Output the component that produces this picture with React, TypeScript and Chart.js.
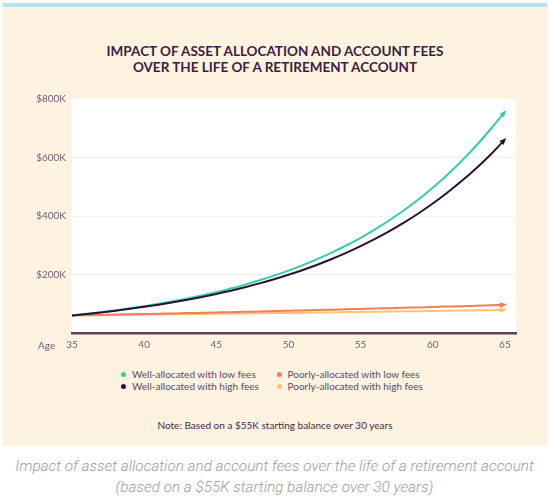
import { useEffect, useRef } from "react";
import { Chart, registerables } from "chart.js";

Chart.register(...registerables);

// ---- data (values in thousands of dollars) ----
const ages = [
  35, 36, 37, 38, 39, 40, 41, 42, 43, 44, 45, 46, 47, 48, 49, 50,
  51, 52, 53, 54, 55, 56, 57, 58, 59, 60, 61, 62, 63, 64, 65,
];
const wellLowFees = [
  60, 65.3, 71.1, 77.3, 84.2, 91.6, 99.7, 108.5, 118, 128.4, 139.7, 152.1, 165.5, 180.1, 196, 213.3,
  232.1, 252.6, 274.9, 299.1, 325.5, 354.2, 385.5, 419.5, 456.5, 496.7, 540.5, 588.2, 640.1, 696.6, 756,
];
const wellHighFees = [
  60, 65, 70.4, 76.3, 82.6, 89.5, 96.9, 105, 113.7, 123.2, 133.4, 144.5, 156.6, 169.6, 183.7, 199,
  215.6, 233.5, 252.9, 274, 296.8, 321.5, 348.2, 377.2, 408.6, 442.6, 479.4, 519.3, 562.5, 609.4, 662,
];
const poorLowFees = [
  60, 60.9, 61.9, 62.9, 63.9, 64.9, 65.9, 67, 68, 69.1, 70.2, 71.3, 72.5, 73.6, 74.8, 76,
  77.2, 78.4, 79.7, 80.9, 82.2, 83.5, 84.9, 86.2, 87.6, 89, 90.4, 91.8, 93.3, 94.8, 96.3,
];
const poorHighFees = [
  60, 60.6, 61.1, 61.7, 62.2, 62.8, 63.4, 64, 64.5, 65.1, 65.7, 66.3, 66.9, 67.6, 68.2, 68.8,
  69.4, 70.1, 70.7, 71.4, 72, 72.7, 73.4, 74, 74.7, 75.4, 76.1, 76.8, 77.5, 78.2, 78.9,
];
const seriesNames = [
  "Well-allocated with low fees",
  "Well-allocated with high fees",
  "Poorly-allocated with low fees",
  "Poorly-allocated with high fees",
];
const seriesColors = ["#35cf9c", "#2b1135", "#f77b5c", "#fdc56c"];
const xTickLabels = [35, 40, 45, 50, 55, 60, 65];
const yTickLabels = [200, 400, 600, 800];

const FONT = "Lato, 'Open Sans', sans-serif";
const TICK_COLOR = "#6f5c74";

const plotBg = {
  id: "plotBg",
  beforeDraw(chart: any) {
    const { ctx, chartArea } = chart;
    ctx.save();
    ctx.fillStyle = "#ffffff";
    ctx.fillRect(chartArea.left, chartArea.top, chartArea.right - chartArea.left, chartArea.bottom - chartArea.top);
    ctx.restore();
  },
};

const arrowHeads = {
  id: "arrowHeads",
  afterDatasetsDraw(chart: any) {
    const { ctx } = chart;
    chart.data.datasets.forEach((ds: any, i: number) => {
      const meta = chart.getDatasetMeta(i);
      const pts = meta.data;
      if (pts.length < 2) return;
      const a = pts[pts.length - 2];
      const b = pts[pts.length - 1];
      const ang = Math.atan2(b.y - a.y, b.x - a.x);
      const len = 7;
      const half = 2.8;
      const tipX = b.x + Math.cos(ang) * 2;
      const tipY = b.y + Math.sin(ang) * 2;
      const baseX = tipX - Math.cos(ang) * len;
      const baseY = tipY - Math.sin(ang) * len;
      ctx.save();
      ctx.fillStyle = ds.borderColor;
      ctx.beginPath();
      ctx.moveTo(tipX, tipY);
      ctx.lineTo(baseX + Math.cos(ang + Math.PI / 2) * half, baseY + Math.sin(ang + Math.PI / 2) * half);
      ctx.lineTo(baseX + Math.cos(ang - Math.PI / 2) * half, baseY + Math.sin(ang - Math.PI / 2) * half);
      ctx.closePath();
      ctx.fill();
      ctx.restore();
    });
  },
};

export default function App() {
  const ref = useRef<HTMLCanvasElement | null>(null);

  useEffect(() => {
    document.body.style.margin = "0";
    if (!ref.current) return;
    const series = [wellHighFees, wellLowFees, poorLowFees, poorHighFees];
    const names = [seriesNames[1], seriesNames[0], seriesNames[2], seriesNames[3]];
    const colors = [seriesColors[1], seriesColors[0], seriesColors[2], seriesColors[3]];
    const chart = new Chart(ref.current, {
      type: "line",
      data: {
        datasets: series.map((vals, i) => ({
          label: names[i],
          data: ages.map((a, j) => ({ x: a, y: vals[j] })),
          borderColor: colors[i],
          backgroundColor: colors[i],
          borderWidth: 2,
          pointRadius: 0,
          cubicInterpolationMode: "monotone",
          fill: false,
        })),
      },
      options: {
        responsive: false,
        animation: false,
        devicePixelRatio: 1,
        layout: { padding: { left: 0, right: 33, top: 99, bottom: 0 } },
        plugins: {
          legend: { display: false },
          title: { display: false },
          tooltip: { enabled: false },
        },
        scales: {
          x: {
            type: "linear",
            min: 35,
            max: 65.77,
            afterFit: (s: any) => {
              s.height = 27;
            },
            afterBuildTicks: (s: any) => {
              s.ticks = xTickLabels.map((v) => ({ value: v }));
            },
            grid: { display: false, drawTicks: false },
            border: { display: true, color: "#5b3f60", width: 2.5 },
            ticks: {
              autoSkip: false,
              maxRotation: 0,
              padding: 6,
              color: TICK_COLOR,
              font: { family: FONT, size: 10 },
              callback: (v: any) => String(v),
            },
          },
          y: {
            min: 0,
            max: 800,
            afterFit: (s: any) => {
              s.width = 72;
            },
            afterBuildTicks: (s: any) => {
              s.ticks = [0, ...yTickLabels].map((v) => ({ value: v }));
            },
            grid: {
              drawTicks: false,
              color: (c: any) => (c.tick && (c.tick.value === 0 || c.tick.value === 800) ? "rgba(0,0,0,0)" : "#efefef"),
              lineWidth: 1,
            },
            border: { display: false },
            ticks: {
              padding: 6,
              color: TICK_COLOR,
              font: { family: FONT, size: 10 },
              callback: (v: any) => (v === 0 ? "" : "$" + v + "K"),
            },
          },
        },
      },
      plugins: [plotBg, arrowHeads],
    } as any);
    return () => chart.destroy();
  }, []);

  const legendItem = (i: number, left: number, top: number) => (
    <div
      key={i}
      style={{
        position: "absolute",
        left,
        top,
        height: 13,
        lineHeight: "13px",
        display: "flex",
        alignItems: "center",
        whiteSpace: "nowrap",
      }}
    >
      <span
        style={{
          display: "inline-block",
          width: 5,
          height: 5,
          borderRadius: "50%",
          background: seriesColors[i],
          marginRight: 6,
        }}
      />
      <span>{seriesNames[i]}</span>
    </div>
  );

  return (
    <div style={{ position: "relative", width: 549, height: 501, background: "#ffffff", overflow: "hidden" }}>
      <div style={{ position: "absolute", left: 3, top: 3, width: 544, height: 5, background: "#b9dff1" }} />
      <div style={{ position: "absolute", left: 3, top: 7, width: 544, height: 439, background: "#fef2e1" }} />
      <div
        style={{
          position: "absolute",
          left: 3,
          top: 44,
          width: 544,
          textAlign: "center",
          fontFamily: FONT,
          fontWeight: 700,
          fontSize: 13.5,
          lineHeight: "15.5px",
          color: "#3b2043",
        }}
      >
        IMPACT OF ASSET ALLOCATION AND ACCOUNT FEES
        <br />
        OVER THE LIFE OF A RETIREMENT ACCOUNT
      </div>
      <canvas ref={ref} width={549} height={360} style={{ position: "absolute", left: 0, top: 0, width: 549, height: 360 }} />
      <div
        style={{
          position: "absolute",
          left: 38,
          top: 339,
          fontFamily: FONT,
          fontSize: 10,
          lineHeight: "12px",
          color: TICK_COLOR,
        }}
      >
        Age
      </div>
      <div style={{ fontFamily: FONT, fontSize: 10, color: "#5d4863" }}>
        {legendItem(0, 121, 367.5)}
        {legendItem(2, 276.5, 367.5)}
        {legendItem(1, 121, 380.2)}
        {legendItem(3, 276.5, 380.2)}
      </div>
      <div
        style={{
          position: "absolute",
          left: 3,
          top: 419,
          width: 544,
          textAlign: "center",
          fontFamily: FONT,
          fontSize: 10,
          lineHeight: "13px",
          color: "#3f2b47",
        }}
      >
        Note: Based on a $55K starting balance over 30 years
      </div>
      <div
        style={{
          position: "absolute",
          left: 0,
          top: 456,
          width: 549,
          textAlign: "center",
          fontFamily: "Roboto, sans-serif",
          fontStyle: "italic",
          fontWeight: 300,
          fontSize: 15.3,
          lineHeight: "20.5px",
          color: "#9c9c9c",
          whiteSpace: "nowrap",
        }}
      >
        Impact of asset allocation and account fees over the life of a retirement account
        <br />
        (based on a $55K starting balance over 30 years)
      </div>
    </div>
  );
}
